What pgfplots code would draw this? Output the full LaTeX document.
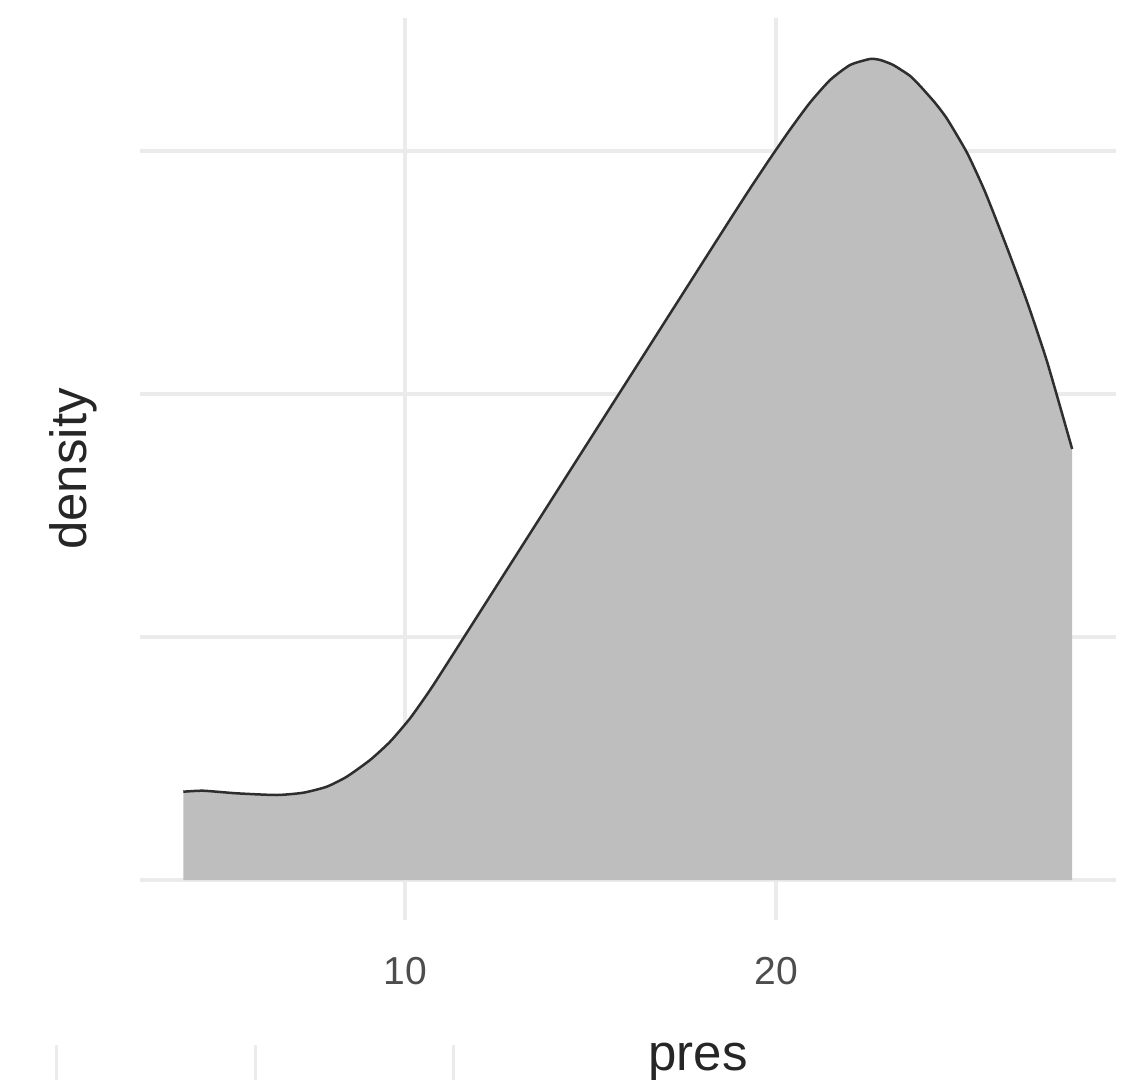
\documentclass[border=0pt]{standalone}
\usepackage{pgfplots}
\pgfplotsset{compat=1.18}
\usepackage{pgfplotstable}
\usepackage{fontspec}
\setmainfont{Liberation Sans}
\definecolor{gridc}{HTML}{EBEBEB}
\definecolor{fillc}{HTML}{BEBEBE}
\definecolor{linec}{HTML}{2E2E2E}
\definecolor{tickc}{HTML}{4D4D4D}
\definecolor{titlec}{HTML}{262626}
\pgfplotstableread{
x y
4.024 0.007267
4.563 0.007349
5.464 0.007135
6.542 0.006996
7.259 0.007185
7.889 0.007679
8.429 0.008502
9.057 0.009876
9.596 0.011382
10.135 0.013308
10.674 0.015637
11.213 0.018188
12.022 0.022065
12.830 0.025941
13.639 0.029817
14.447 0.033694
15.256 0.037570
16.065 0.041446
16.873 0.045323
17.682 0.049199
18.221 0.051783
18.760 0.054359
19.299 0.056910
19.838 0.059379
20.377 0.061766
20.916 0.063988
21.456 0.065840
21.995 0.067075
22.534 0.067568
22.803 0.067486
23.154 0.067075
23.612 0.066169
23.881 0.065346
24.286 0.063947
24.609 0.062630
25.148 0.059832
25.633 0.056622
26.226 0.052014
26.765 0.047569
27.305 0.042631
27.978 0.035471
}\dens
\begin{document}
\begin{tikzpicture}
\path[use as bounding box] (-70pt,-80pt) rectangle (494.5pt,460pt);
\begin{axis}[
  scale only axis,
  width=488pt, height=451pt,
  xmin=2.857, xmax=29.16,
  ymin=-0.00329, ymax=0.07094,
  xtick={10,20},
  ytick={0,0.02,0.04,0.06},
  yticklabel=\empty,
  scaled y ticks=false,
  scaled x ticks=false,
  /pgf/number format/assume math mode=true,
  axis line style={draw=none},
  major tick length=0pt,
  grid=major,
  grid style={color=gridc, line width=1.9pt},
  xticklabel style={font=\fontsize{19.5}{23}\selectfont, text=tickc, anchor=center, yshift=-25.5pt},
  xlabel={pres},
  ylabel={density},
  xlabel style={font=\fontsize{25.5}{30}\selectfont, text=titlec, at={(axis description cs:0.5717,-0.1663)}, anchor=base},
  ylabel style={font=\fontsize{25.5}{30}\selectfont, text=titlec, at={(axis description cs:-0.0543,0.5)}, anchor=base, rotate=0},
  clip=false,
]
\addplot[draw=none, fill=fillc, smooth, tension=0.35] table[x=x,y=y]{\dens} \closedcycle;
\addplot[color=linec, line width=1.25pt, smooth, tension=0.35] table[x=x,y=y]{\dens};
\end{axis}
\draw[gridc, line width=1.5pt] (-41.5pt,-62.5pt) -- (-41.5pt,-80pt);
\draw[gridc, line width=1.5pt] (57.5pt,-62.5pt) -- (57.5pt,-80pt);
\draw[gridc, line width=1.5pt] (156.5pt,-62.5pt) -- (156.5pt,-80pt);
\end{tikzpicture}
\end{document}
